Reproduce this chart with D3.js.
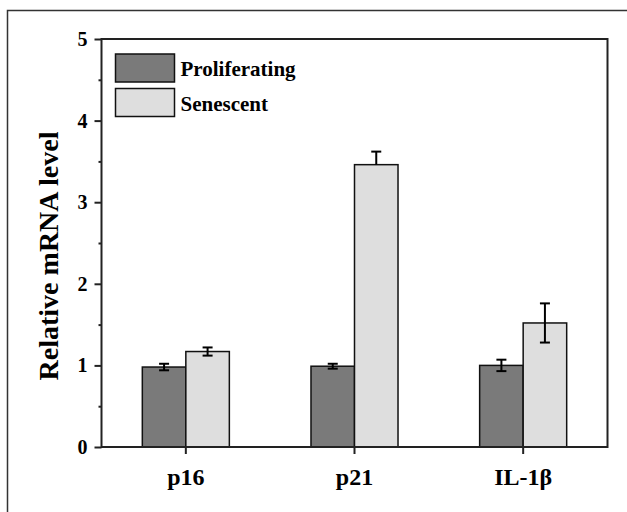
<!DOCTYPE html>
<html lang="en">

<head>
  <meta charset="UTF-8">
  <title>mRNA levels</title>
  <script src="https://d3js.org/d3.v7.min.js"></script>
  <style>
    body { margin: 0; background: #fff; }
    text { font-family: "Liberation Serif", "Times New Roman", serif; font-weight: bold; fill: #000; }
  </style>
</head>

<body>
  <svg id="chart" width="627" height="512"></svg>

  <script>
    // data
    const genes = ["p16", "p21", "IL-1\u03b2"];
    const groups = ["Proliferating", "Senescent"];
    const proliferating = [0.98, 0.99, 1.0];
    const senescent = [1.17, 3.46, 1.52];
    const errProlif = [0.04, 0.03, 0.07];
    const errSenes = [0.05, 0.16, 0.24];
    // lower whisker of p21 senescent is not visible in the figure
    const errSenesLow = [0.05, 0, 0.24];
    const yTicks = [0, 1, 2, 3, 4, 5];

    const colors = { "Proliferating": "#7a7a7a", "Senescent": "#dedede" };

    const svg = d3.select("#chart");
    const plotLeft = 101.5, plotRight = 607.5, plotTop = 39, plotBottom = 447;

    // outer frame of the picture (runs off the right and bottom edge)
    svg.append("rect")
      .attr("x", 7.5).attr("y", 10.5)
      .attr("width", 700).attr("height", 600)
      .attr("fill", "none").attr("stroke", "#333").attr("stroke-width", 1.5);

    const x0 = d3.scaleBand().domain(genes).range([plotLeft, plotRight])
      .paddingInner(0.484).paddingOuter(0.242);
    const x1 = d3.scaleBand().domain(groups).range([0, x0.bandwidth()]);
    const y = d3.scaleLinear().domain([0, 5]).range([plotBottom, plotTop]);

    const rows = genes.map((g, i) => [
      { gene: g, group: "Proliferating", v: proliferating[i], up: errProlif[i], down: errProlif[i] },
      { gene: g, group: "Senescent", v: senescent[i], up: errSenes[i], down: errSenesLow[i] }
    ]).flat();

    // bars
    svg.append("g").selectAll("rect").data(rows)
      .join("rect")
      .attr("x", d => x0(d.gene) + x1(d.group))
      .attr("y", d => y(d.v))
      .attr("width", x1.bandwidth())
      .attr("height", d => y(0) - y(d.v))
      .attr("fill", d => colors[d.group])
      .attr("stroke", "#111")
      .attr("stroke-width", 1.5);

    // error bars
    const eb = svg.append("g").attr("stroke", "#000").attr("stroke-width", 2).selectAll("g").data(rows)
      .join("g")
      .attr("transform", d => `translate(${x0(d.gene) + x1(d.group) + x1.bandwidth() / 2},0)`);
    eb.append("line").attr("y1", d => y(d.v + d.up)).attr("y2", d => y(d.v - d.down));
    eb.append("line").attr("x1", -5).attr("x2", 5).attr("y1", d => y(d.v + d.up)).attr("y2", d => y(d.v + d.up));
    eb.filter(d => d.down > 0).append("line").attr("x1", -5).attr("x2", 5)
      .attr("y1", d => y(d.v - d.down)).attr("y2", d => y(d.v - d.down));

    // axes
    const yAxis = svg.append("g").attr("transform", `translate(${plotLeft},0)`)
      .call(d3.axisLeft(y).tickValues(yTicks).tickFormat(d3.format("d")).tickSizeInner(7).tickSizeOuter(0).tickPadding(7));
    yAxis.selectAll("text").style("font-size", "20px");
    svg.append("g").attr("transform", `translate(${plotLeft},0)`)
      .call(d3.axisLeft(y).tickValues([0.5, 1.5, 2.5, 3.5, 4.5]).tickFormat("").tickSizeInner(3).tickSizeOuter(0));

    const xAxis = svg.append("g").attr("transform", `translate(0,${plotBottom})`)
      .call(d3.axisBottom(x0).tickSizeInner(7).tickSizeOuter(0).tickPadding(14));
    xAxis.selectAll("text").style("font-size", "24px");

    svg.selectAll(".domain").remove();
    svg.selectAll(".tick line").attr("stroke", "#222").attr("stroke-width", 2);

    // plot box
    svg.append("rect")
      .attr("x", plotLeft).attr("y", plotTop)
      .attr("width", plotRight - plotLeft).attr("height", plotBottom - plotTop)
      .attr("fill", "none").attr("stroke", "#222").attr("stroke-width", 2);

    // legend
    const lg = svg.append("g").selectAll("g").data(groups)
      .join("g")
      .attr("transform", (d, i) => `translate(115.5,${54 + i * 34.5})`);
    lg.append("rect").attr("width", 59).attr("height", 28)
      .attr("fill", d => colors[d]).attr("stroke", "#111").attr("stroke-width", 1.5);
    lg.append("text").attr("x", 65).attr("y", 22).style("font-size", "21px").text(d => d);

    // y title
    svg.append("text")
      .attr("transform", "rotate(-90)")
      .attr("x", -(plotTop + plotBottom) / 2 - 13).attr("y", 58)
      .attr("text-anchor", "middle")
      .style("font-size", "28px")
      .text("Relative mRNA level");
  </script>
</body>

</html>
